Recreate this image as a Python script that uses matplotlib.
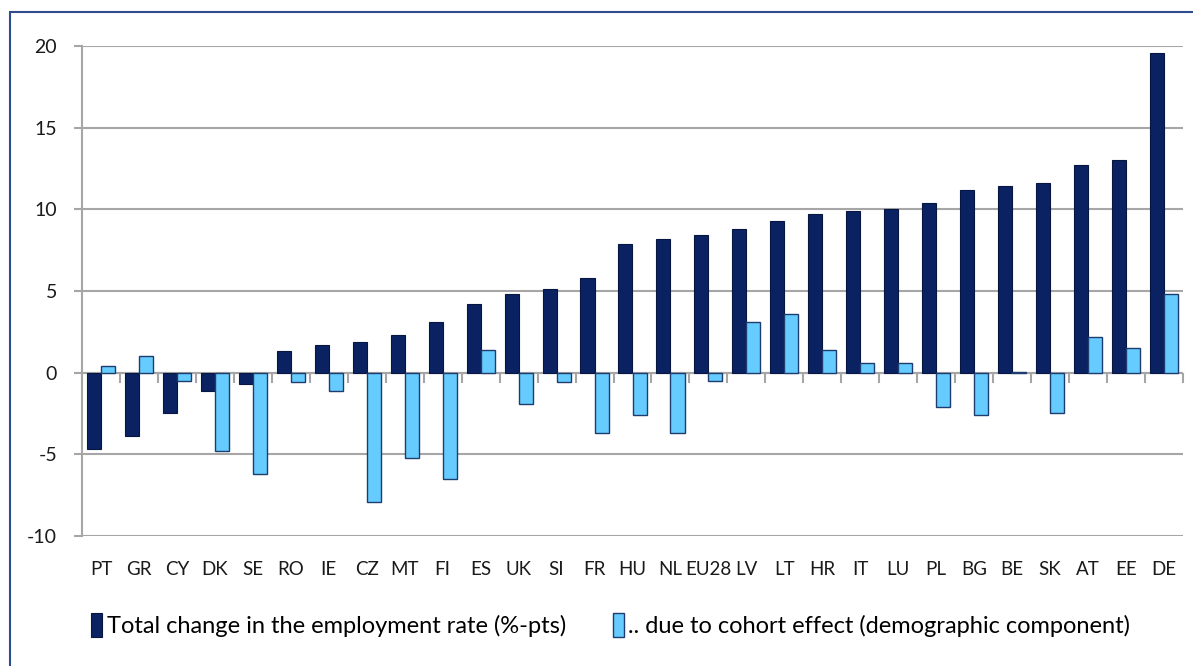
import numpy as np
import matplotlib.pyplot as plt
from matplotlib.patches import Rectangle

plt.rcParams['font.family'] = ['Lato', 'DejaVu Sans']
plt.rcParams['axes.unicode_minus'] = False

# data
countries = ["PT", "GR", "CY", "DK", "SE", "RO", "IE", "CZ", "MT", "FI", "ES", "UK", "SI", "FR",
             "HU", "NL", "EU28", "LV", "LT", "HR", "IT", "LU", "PL", "BG", "BE", "SK", "AT", "EE", "DE"]
total_change = [-4.7, -3.9, -2.5, -1.1, -0.7, 1.3, 1.7, 1.9, 2.3, 3.1, 4.2, 4.8, 5.1, 5.8,
                7.9, 8.2, 8.4, 8.8, 9.3, 9.7, 9.9, 10.0, 10.4, 11.2, 11.4, 11.6, 12.7, 13.0, 19.6]
cohort_effect = [0.4, 1.0, -0.5, -4.8, -6.2, -0.6, -1.1, -7.9, -5.2, -6.5, 1.4, -1.9, -0.6, -3.7,
                 -2.6, -3.7, -0.5, 3.1, 3.6, 1.4, 0.6, 0.6, -2.1, -2.6, 0.05, -2.5, 2.2, 1.5, 4.8]
legend_labels = ["Total change in the employment rate (%-pts)",
                 ".. due to cohort effect (demographic component)"]

dark = "#0A2262"
light = "#66CCFF"
grid_col = "#A6A6A6"

fig = plt.figure(figsize=(11.93, 6.66), dpi=100)
ax = fig.add_axes([82 / 1193, 1 - 536 / 666, 1101 / 1193, 490 / 666])

x = np.arange(len(countries))
w = 0.37
ax.bar(x - w / 2, total_change, w, color=dark, edgecolor="#061640", linewidth=0.8,
       label=legend_labels[0], zorder=3)
ax.bar(x + w / 2, cohort_effect, w, color=light, edgecolor="#1E3C6E", linewidth=1.0,
       label=legend_labels[1], zorder=3)

ax.set_xlim(-0.5, len(countries) - 0.5)
ax.set_ylim(-10, 20)
ax.set_yticks(np.arange(-10, 21, 5))
ax.yaxis.grid(True, color=grid_col, linewidth=1.5, zorder=0)
ax.axhline(0, color=grid_col, linewidth=1.5, zorder=2)

for s in ["top", "right", "bottom"]:
    ax.spines[s].set_visible(False)
ax.spines["left"].set_color(grid_col)
ax.spines["left"].set_linewidth(1.5)
ax.tick_params(axis="y", length=6, width=1.5, color=grid_col, labelsize=14, pad=12,
               labelcolor="#1A1A1A")

ax.set_xticks(x)
ax.set_xticklabels(countries)
ax.tick_params(axis="x", length=0, labelsize=13.5, pad=18, labelcolor="#1A1A1A")

# category tick marks on the zero line
secax = ax.secondary_xaxis(1 / 3)
secax.set_xticks(np.arange(len(countries) + 1) - 0.5)
secax.set_xticklabels([])
secax.spines["bottom"].set_visible(False)
secax.tick_params(axis="x", length=7, width=1.5, color=grid_col, direction="out")

fig.legend(loc="center", bbox_to_anchor=(0.512, 1 - 625 / 666), ncol=2, frameon=False,
           fontsize=17, handlelength=0.45, handleheight=1.2, handletextpad=0.2, columnspacing=2.0)

fig.patches.append(Rectangle((10 / 1193, -0.1), 1.2, 1.1 - 12 / 666, transform=fig.transFigure,
                             fill=False, edgecolor="#2E4C8C", linewidth=1.5))

fig.savefig("out.png", dpi=100)
